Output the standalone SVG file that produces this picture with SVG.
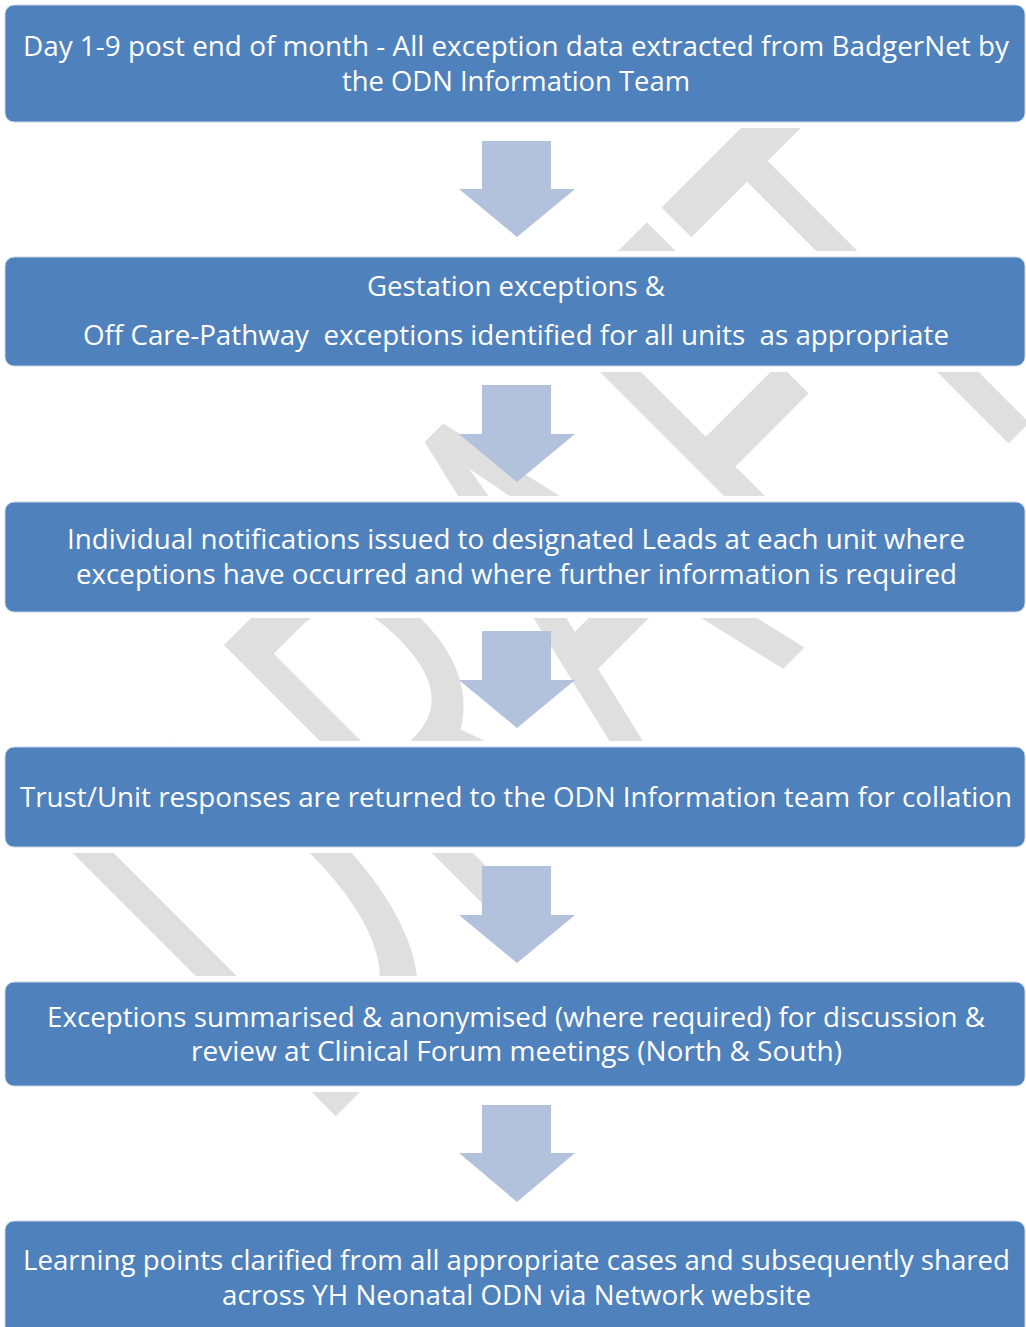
<svg xmlns="http://www.w3.org/2000/svg" width="1026" height="1327" viewBox="0 0 1026 1327">
<defs>
<style>
.mask{fill:#FFFFFF;}
.box{fill:#4F81BD;stroke:#C9D6E8;stroke-width:1;}
.lbl{font-family:"Open Sans","Liberation Sans",sans-serif;font-size:27.5px;fill:#FFFFFF;text-anchor:middle;}
.arrow{fill:#B2C1DC;}
.wm{font-family:"Open Sans","Liberation Sans",sans-serif;font-size:350px;fill:#DFDFDF;}
</style>
</defs>
<rect x="0" y="0" width="1026" height="1327" fill="#FFFFFF"/>
<g id="watermark" transform="translate(726,726) rotate(-45) scale(1,1.65)">
<text class="wm" x="-586 -332 -110 127 318" y="0">DRAFT</text>
</g>
<g id="node1">
<rect class="mask" x="-1" y="-1" width="1032" height="129"/>
<rect class="box" x="5" y="5" width="1020" height="117" rx="9"/>
<text class="lbl" x="516" y="56" textLength="986" lengthAdjust="spacingAndGlyphs">Day 1-9 post end of month - All exception data extracted from BadgerNet by</text>
<text class="lbl" x="516" y="91" textLength="348" lengthAdjust="spacingAndGlyphs">the ODN Information Team</text>
</g>
<g id="node2">
<rect class="mask" x="-1" y="251" width="1032" height="121"/>
<rect class="box" x="5" y="257" width="1020" height="109" rx="9"/>
<text class="lbl" x="516" y="296" textLength="298" lengthAdjust="spacingAndGlyphs">Gestation exceptions &amp;</text>
<text class="lbl" x="516" y="345" xml:space="preserve" textLength="866" lengthAdjust="spacingAndGlyphs">Off Care-Pathway  exceptions identified for all units  as appropriate</text>
</g>
<g id="node3">
<rect class="mask" x="-1" y="496" width="1032" height="122"/>
<rect class="box" x="5" y="502" width="1020" height="110" rx="9"/>
<text class="lbl" x="516" y="549" textLength="898" lengthAdjust="spacingAndGlyphs">Individual notifications issued to designated Leads at each unit where</text>
<text class="lbl" x="516.5" y="584" textLength="881" lengthAdjust="spacingAndGlyphs">exceptions have occurred and where further information is required</text>
</g>
<g id="node4">
<rect class="mask" x="-1" y="741" width="1032" height="112"/>
<rect class="box" x="5" y="747" width="1020" height="100" rx="9"/>
<text class="lbl" x="516" y="807" textLength="992" lengthAdjust="spacingAndGlyphs">Trust/Unit responses are returned to the ODN Information team for collation</text>
</g>
<g id="node5">
<rect class="mask" x="-1" y="976" width="1032" height="116"/>
<rect class="box" x="5" y="982" width="1020" height="104" rx="9"/>
<text class="lbl" x="516" y="1027" textLength="938" lengthAdjust="spacingAndGlyphs">Exceptions summarised &amp; anonymised (where required) for discussion &amp;</text>
<text class="lbl" x="516.5" y="1061" textLength="651" lengthAdjust="spacingAndGlyphs">review at Clinical Forum meetings (North &amp; South)</text>
</g>
<g id="node6">
<rect class="mask" x="-1" y="1215" width="1032" height="130"/>
<rect class="box" x="5" y="1221" width="1020" height="120" rx="9"/>
<text class="lbl" x="516.5" y="1270" textLength="987" lengthAdjust="spacingAndGlyphs">Learning points clarified from all appropriate cases and subsequently shared</text>
<text class="lbl" x="516.5" y="1305" textLength="589" lengthAdjust="spacingAndGlyphs">across YH Neonatal ODN via Network website</text>
</g>
<g id="connectors">
<polygon class="arrow" points="482,141 551,141 551,189 575,189 517,237 459,189 482,189"/>
<polygon class="arrow" points="482,385 551,385 551,434 575,434 517,482 459,434 482,434"/>
<polygon class="arrow" points="482,631 551,631 551,680 575,680 517,728 459,680 482,680"/>
<polygon class="arrow" points="482,866 551,866 551,915 575,915 517,963 459,915 482,915"/>
<polygon class="arrow" points="482,1105 551,1105 551,1153 575,1153 517,1202 459,1153 482,1153"/>
</g>
</svg>
